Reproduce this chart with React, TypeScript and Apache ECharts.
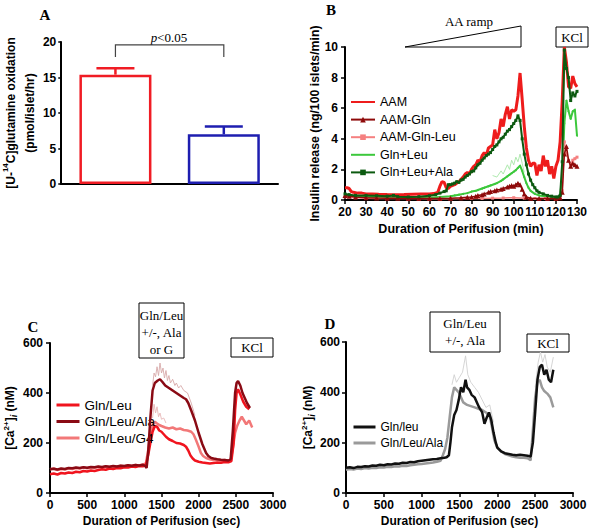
import React, { useEffect, useRef } from 'react';
import * as echarts from 'echarts';

const SANS = '"Liberation Sans", Arial, sans-serif';
const SERIF = '"Liberation Serif", "Times New Roman", serif';

// ---------- Panel A ----------
const groupsA = ['Group 1', 'Group 2'];
const meansA = [15.4, 7.0];
const upperA = [16.3, 8.1];
const colorsA = ['#f01c24', '#1e1eb0'];
const bracketA = [[0, 1, 19.6, 17.9]];

// ---------- Panel B (time min, insulin) ----------
const namesB = ['AAM', 'AAM-Gln', 'AAM-Gln-Leu', 'Gln+Leu', 'Gln+Leu+Ala'];
const bAAM = [[20,0.8],[21,0.8],[22,0.75],[23,0.55],[24,0.5],[26,0.45],[28,0.45],[30,0.4],[33,0.4],[36,0.38],[40,0.36],[44,0.35],[48,0.36],[52,0.38],[56,0.4],[60,0.4],[62,0.42],[64,0.5],[65,0.9],[66,1.2],[67,1.15],[68,0.8],[69,0.75],[70,0.9],[72,1.0],[74,1.2],[76,1.5],[77,1.7],[78,1.8],[79,1.7],[80,2.0],[81,2.2],[82,2.3],[83,2.6],[84,2.5],[85,2.9],[86,3.1],[87,2.9],[88,3.4],[89,3.5],[90,3.6],[91,4.6],[92,4.0],[93,4.4],[94,5.3],[95,4.8],[96,5.6],[97,6.1],[98,5.3],[99,5.9],[100,5.8],[101,5.9],[102,6.8],[103,8.3],[104,6.6],[105,4.8],[106,3.4],[107,2.6],[108,2.2],[109,2.4],[110,2.4],[111,1.6],[112,2.3],[113,1.9],[114,2.9],[115,2.2],[116,2.6],[117,1.7],[118,2.2],[119,1.4],[120,2.2],[121,2.6],[122,3.8],[123,6.5],[124,10.0],[125,9.0],[126,7.4],[127,7.3],[128,8.1],[129,7.6],[130,7.4]];
const bAAMGln = [[20,0.3],[22,0.25],[25,0.2],[30,0.15],[35,0.13],[40,0.12],[45,0.11],[50,0.1],[55,0.1],[60,0.1],[65,0.1],[70,0.12],[75,0.15],[78,0.18],[80,0.2],[82,0.25],[83,0.3],[85,0.35],[86,0.4],[88,0.5],[89,0.55],[91,0.6],[92,0.65],[94,0.7],[95,0.75],[97,0.85],[98,0.9],[99,0.95],[100,0.9],[101,1.0],[102,1.1],[103,1.0],[104,0.7],[105,0.4],[106,0.2],[108,0.12],[112,0.1],[116,0.1],[120,0.1],[122,0.15],[123,0.5],[124,3.0],[125,3.5],[126,2.6],[127,2.2],[128,2.4],[129,2.3],[130,2.2]];
const bAAMGlnLeu = [[20,0.2],[25,0.15],[30,0.12],[35,0.1],[40,0.1],[45,0.1],[50,0.1],[55,0.09],[60,0.08],[65,0.08],[70,0.08],[75,0.09],[80,0.1],[85,0.1],[90,0.12],[95,0.13],[100,0.15],[105,0.12],[110,0.1],[115,0.1],[120,0.1],[122,0.15],[123,0.6],[124,3.8],[125,3.0],[126,2.6],[127,2.3],[128,2.6],[129,2.7],[130,2.8]];
const bGlnLeu = [[20,0.3],[22,0.25],[25,0.2],[30,0.2],[35,0.19],[40,0.18],[45,0.17],[50,0.15],[55,0.15],[60,0.15],[65,0.2],[70,0.25],[72,0.3],[74,0.35],[76,0.4],[78,0.45],[80,0.55],[82,0.6],[83,0.65],[85,0.75],[86,0.8],[88,0.9],[89,0.95],[91,1.05],[92,1.1],[94,1.25],[95,1.35],[97,1.55],[98,1.65],[99,1.75],[100,1.85],[101,1.95],[102,2.1],[103,2.25],[104,1.9],[105,1.5],[106,1.1],[107,0.8],[108,0.6],[110,0.4],[112,0.3],[115,0.25],[118,0.2],[121,0.2],[122,0.3],[123,1.5],[124,5.0],[125,6.5],[126,5.8],[127,5.3],[128,5.8],[129,5.9],[130,4.2]];
const bGlnLeuUpper = [[90,1.6],[92,1.5],[94,1.9],[95,1.7],[97,2.3],[98,2.0],[99,2.6],[100,2.3],[101,2.8],[102,2.5],[103,3.0],[104,2.4],[105,1.8]];
const bGlnLeuAla = [[20,0.4],[22,0.35],[25,0.3],[30,0.3],[35,0.28],[40,0.25],[43,0.3],[45,0.22],[50,0.2],[55,0.22],[60,0.28],[63,0.35],[65,0.45],[67,0.55],[68,0.6],[69,1.0],[70,1.0],[71,1.05],[72,1.1],[73,1.2],[74,1.15],[75,1.3],[76,1.35],[77,1.5],[78,1.6],[79,1.7],[80,1.85],[81,1.9],[82,2.1],[83,2.3],[84,2.4],[85,2.6],[86,2.75],[87,2.9],[88,3.0],[89,3.1],[90,3.3],[91,3.5],[92,3.6],[93,3.8],[94,4.0],[95,4.1],[96,4.3],[97,4.5],[98,4.6],[99,4.8],[100,5.0],[101,5.2],[102,5.5],[103,5.2],[104,4.0],[105,3.0],[106,2.3],[107,1.7],[108,1.3],[109,1.0],[110,0.8],[111,0.6],[112,0.5],[114,0.4],[116,0.3],[118,0.25],[120,0.2],[121,0.2],[122,0.3],[123,2.5],[124,9.8],[125,8.6],[126,8.0],[127,6.5],[128,7.0],[129,6.8],[130,7.1]];
const colorsB = ['#ee1c1c', '#8e0a0a', '#f58080', '#3cc83c', '#0c5a10'];

// ---------- Panel C (time s, [Ca2+]i nM) ----------
const namesC = ['Gln/Leu', 'Gln/Leu/Ala', 'Gln/Leu/G4'];
const cGlnLeu = [[0,75],[50,78],[100,74],[150,80],[200,78],[250,82],[300,80],[350,85],[400,83],[450,88],[500,86],[550,90],[600,88],[650,92],[700,95],[750,93],[800,98],[850,96],[900,100],[950,99],[1000,103],[1050,102],[1100,106],[1150,104],[1200,108],[1250,107],[1290,112],[1320,150],[1350,200],[1380,245],[1410,268],[1440,265],[1470,250],[1500,245],[1530,235],[1560,225],[1600,215],[1650,208],[1700,200],[1750,198],[1800,192],[1830,185],[1860,170],[1890,150],[1920,138],[1950,130],[2000,125],[2050,122],[2100,120],[2150,118],[2200,120],[2250,122],[2300,121],[2350,124],[2400,123],[2440,128],[2470,200],[2490,330],[2510,400],[2530,415],[2560,395],[2600,365],[2640,345],[2680,335]];
const cGlnLeuAla = [[0,95],[50,97],[100,94],[150,98],[200,96],[250,100],[300,99],[350,102],[400,100],[450,103],[500,101],[550,104],[600,103],[650,106],[700,104],[750,107],[800,105],[850,108],[900,106],[950,109],[1000,108],[1050,111],[1100,109],[1150,112],[1200,110],[1250,113],[1280,108],[1300,100],[1320,160],[1350,300],[1380,410],[1410,440],[1450,450],[1480,455],[1510,445],[1550,430],[1600,420],[1650,410],[1700,400],[1750,390],[1800,380],[1830,375],[1860,360],[1900,330],[1950,290],[2000,240],[2050,195],[2100,160],[2130,148],[2170,140],[2200,138],[2250,135],[2300,133],[2350,132],[2400,130],[2430,135],[2460,250],[2490,400],[2510,440],[2530,448],[2560,430],[2590,400],[2620,380],[2650,360],[2690,340]];
const cAlaUpper = [[1380,430],[1400,480],[1420,465],[1440,505],[1460,470],[1480,520],[1500,480],[1520,500],[1540,460],[1560,490],[1580,450],[1600,470],[1620,440],[1650,455],[1680,430],[1700,440],[1730,420],[1760,430],[1800,410],[1850,400],[1900,360],[1950,310]];
const cGlnLeuG4 = [[0,95],[50,98],[100,92],[150,96],[200,94],[250,99],[300,96],[350,100],[400,98],[450,102],[500,99],[550,103],[600,101],[650,104],[700,102],[750,106],[800,104],[850,107],[900,105],[950,109],[1000,107],[1050,110],[1100,108],[1150,112],[1200,110],[1250,114],[1290,118],[1320,170],[1350,230],[1380,270],[1410,285],[1440,278],[1470,272],[1500,268],[1550,262],[1600,258],[1650,262],[1700,255],[1750,258],[1800,252],[1850,250],[1900,245],[1930,235],[1960,215],[2000,185],[2030,160],[2060,148],[2100,140],[2150,135],[2200,132],[2250,134],[2300,130],[2350,132],[2400,128],[2430,130],[2460,180],[2490,240],[2520,270],[2550,290],[2580,305],[2610,290],[2640,275],[2680,290],[2720,262]];
const cG4Upper = [[1380,300],[1400,355],[1420,320],[1440,345],[1460,305],[1480,320],[1500,295],[1530,300],[1560,280]];
const colorsC = ['#f0141e', '#8a0a14', '#f27878'];

// ---------- Panel D ----------
const namesD = ['Gln/leu', 'Gln/Leu/Ala '];
const dGlnLeu = [[0,100],[50,102],[100,99],[150,104],[200,103],[250,106],[300,105],[350,109],[400,108],[450,112],[500,110],[550,114],[600,113],[650,117],[700,116],[750,120],[800,119],[850,123],[900,122],[950,126],[1000,128],[1050,130],[1100,132],[1150,134],[1200,135],[1250,138],[1300,140],[1330,142],[1360,150],[1380,200],[1400,260],[1430,310],[1460,330],[1490,370],[1520,420],[1550,400],[1580,450],[1600,420],[1630,410],[1660,390],[1700,380],[1730,360],[1760,340],[1800,320],[1830,275],[1860,300],[1890,320],[1920,290],[1950,240],[1980,200],[2000,180],[2050,165],[2100,158],[2150,155],[2200,152],[2250,150],[2300,152],[2350,150],[2400,148],[2440,145],[2470,200],[2500,320],[2530,450],[2560,500],[2590,510],[2620,470],[2650,490],[2680,450],[2710,440],[2740,490]];
const dUpperPeak = [[1400,430],[1430,470],[1460,440],[1500,460],[1540,480],[1580,545],[1610,470],[1650,440],[1700,420],[1750,400],[1800,370],[1850,340],[1900,350],[1950,280]];
const dUpperKCl = [[2500,420],[2540,520],[2570,560],[2600,520],[2630,550],[2660,500],[2700,480],[2740,540]];
const dGlnLeuAla = [[0,92],[50,95],[100,93],[150,97],[200,95],[250,99],[300,97],[350,100],[400,99],[450,102],[500,101],[550,104],[600,103],[650,106],[700,105],[750,108],[800,107],[850,110],[900,112],[950,114],[1000,115],[1050,117],[1100,119],[1150,121],[1200,124],[1250,128],[1280,150],[1310,175],[1340,220],[1370,300],[1400,380],[1430,420],[1460,410],[1490,400],[1520,380],[1550,360],[1600,350],[1650,345],[1700,340],[1750,335],[1800,330],[1850,320],[1900,305],[1930,260],[1960,210],[2000,180],[2050,165],[2100,155],[2150,150],[2200,145],[2250,142],[2300,140],[2350,140],[2400,138],[2440,130],[2470,250],[2500,380],[2530,440],[2560,450],[2590,420],[2620,405],[2660,395],[2700,380],[2740,340]];
const colorsD = ['#111111', '#9a9a9a'];

const axisLine = { show: true, lineStyle: { color: '#000', width: 2 } };
const axisTick = { show: true, length: 4, lineStyle: { color: '#000', width: 1.5 } };
const tickLabel = (margin: number) => ({ color: '#000', fontFamily: SANS, fontWeight: 'bold', fontSize: 12, margin, formatter: (v: number) => String(v) });

const caName = '{b|[Ca}{sup|2+}{b|]}{sub|i}{b| (nM)}';
const caRich = {
  b: { fontFamily: SANS, fontWeight: 'bold', fontSize: 12, color: '#000', lineHeight: 16 },
  sup: { fontFamily: SANS, fontWeight: 'bold', fontSize: 8, color: '#000', verticalAlign: 'top', lineHeight: 10 },
  sub: { fontFamily: SANS, fontWeight: 'bold', fontStyle: 'italic', fontSize: 9, color: '#000', verticalAlign: 'bottom', lineHeight: 10 },
};

function boxText(lines: string[], cx: number, y0: number, step: number) {
  return lines.map((t, i) => ({
    type: 'text', x: cx, y: y0 + i * step,
    style: { text: t, font: `13px ${SERIF}`, fill: '#000', textAlign: 'center', textVerticalAlign: 'middle' },
  }));
}

export default function App() {
  const ref = useRef<HTMLDivElement>(null);
  useEffect(() => {
    if (!ref.current) return;
    const chart = echarts.init(ref.current, undefined, { renderer: 'svg' });
    const lineS = (name: string, data: number[][], color: string, xi: number, width: number, symbol: string, size: number, z: number) => ({
      name, type: 'line', xAxisIndex: xi, yAxisIndex: xi, data, z,
      symbol: symbol === 'none' ? 'circle' : symbol, symbolSize: size, showSymbol: symbol !== 'none',
      itemStyle: { color }, lineStyle: { color, width }, emphasis: { disabled: true },
    });
    const errS = (data: number[][], color: string, xi: number) => ({
      type: 'line', xAxisIndex: xi, yAxisIndex: xi, data, z: 1, silent: true, showSymbol: false, symbol: 'none',
      lineStyle: { color, width: 0.9 }, emphasis: { disabled: true }, tooltip: { show: false },
    });
    const hidden = { opacity: 0 };
    const option: any = {
      animation: false,
      backgroundColor: '#fff',
      grid: [
        { left: 57, top: 42, width: 221, height: 142 },
        { left: 345, top: 47, width: 232, height: 153 },
        { left: 50, top: 343, width: 223, height: 150 },
        { left: 346, top: 342, width: 227, height: 151 },
      ],
      xAxis: [
        { gridIndex: 0, type: 'category', data: groupsA, axisLine, axisTick: { show: false }, axisLabel: { show: false } },
        { gridIndex: 1, type: 'value', min: 20, max: 130, interval: 10, axisLine, axisTick, splitLine: { show: false }, axisLabel: tickLabel(6),
          name: 'Duration of Perifusion (min)', nameLocation: 'middle', nameGap: 22, nameTextStyle: { fontFamily: SANS, fontWeight: 'bold', fontSize: 12.5, color: '#000' } },
        { gridIndex: 2, type: 'value', min: 0, max: 3000, interval: 500, axisLine, axisTick, splitLine: { show: false }, axisLabel: tickLabel(6),
          name: 'Duration of Perifusion (sec)', nameLocation: 'middle', nameGap: 22, nameTextStyle: { fontFamily: SANS, fontWeight: 'bold', fontSize: 12, color: '#000' } },
        { gridIndex: 3, type: 'value', min: 0, max: 3000, interval: 500, axisLine, axisTick, splitLine: { show: false }, axisLabel: tickLabel(6),
          name: 'Duration of Perifusion (sec)', nameLocation: 'middle', nameGap: 22, nameTextStyle: { fontFamily: SANS, fontWeight: 'bold', fontSize: 12, color: '#000' } },
      ],
      yAxis: [
        { gridIndex: 0, type: 'value', min: 0, max: 20, interval: 5, axisLine, axisTick: { ...axisTick, length: 3 }, splitLine: { show: false }, axisLabel: tickLabel(5),
          name: '{b|[U-}{sup|14}{b|C]glutamine oxidation}\n{b|(pmol/islet/hr)}', nameLocation: 'middle', nameGap: 20, nameRotate: 90,
          nameTextStyle: { fontFamily: SANS, fontWeight: 'bold', fontSize: 12, color: '#000', lineHeight: 19,
            rich: { b: { fontFamily: SANS, fontWeight: 'bold', fontSize: 12, color: '#000', lineHeight: 19 },
                    sup: { fontFamily: SANS, fontWeight: 'bold', fontSize: 8, color: '#000', verticalAlign: 'top', lineHeight: 12 } } } },
        { gridIndex: 1, type: 'value', min: 0, max: 10, interval: 2, axisLine, axisTick, splitLine: { show: false }, axisLabel: tickLabel(7),
          name: 'Insulin release (ng/100 islets/min)', nameLocation: 'middle', nameGap: 22, nameRotate: 90,
          nameTextStyle: { fontFamily: SANS, fontWeight: 'bold', fontSize: 12.3, color: '#000' } },
        { gridIndex: 2, type: 'value', min: 0, max: 600, interval: 200, axisLine, axisTick, splitLine: { show: false }, axisLabel: tickLabel(7),
          name: caName, nameLocation: 'middle', nameGap: 32, nameRotate: 90, nameTextStyle: { rich: caRich } },
        { gridIndex: 3, type: 'value', min: 0, max: 600, interval: 200, axisLine, axisTick, splitLine: { show: false }, axisLabel: tickLabel(6),
          name: caName, nameLocation: 'middle', nameGap: 28, nameRotate: 90, nameTextStyle: { rich: caRich } },
      ],
      legend: [
        { data: [
            { name: namesB[0], itemStyle: hidden },
            { name: namesB[1] },
            { name: namesB[2] },
            { name: namesB[3], itemStyle: hidden },
            { name: namesB[4] },
          ],
          orient: 'vertical', left: 350, top: 95, padding: 0, itemWidth: 24, itemHeight: 7, itemGap: 3.6, selectedMode: false,
          textStyle: { fontFamily: SANS, fontSize: 12.5, color: '#000', lineHeight: 14 } },
        { data: namesC, orient: 'vertical', left: 55, top: 398, padding: 0, itemWidth: 23, itemHeight: 7, itemGap: 2.5, selectedMode: false,
          itemStyle: hidden, lineStyle: { width: 3 },
          textStyle: { fontFamily: SANS, fontSize: 13.5, color: '#000', lineHeight: 14 } },
        { data: namesD, orient: 'vertical', left: 352, top: 420, padding: 0, itemWidth: 22, itemHeight: 7, itemGap: 2, selectedMode: false,
          itemStyle: hidden, lineStyle: { width: 3 },
          textStyle: { fontFamily: SANS, fontSize: 12, color: '#000', lineHeight: 14 } },
      ],
      series: [
        { type: 'bar', xAxisIndex: 0, yAxisIndex: 0, barWidth: 72, silent: true,
          data: meansA.map((v, i) => ({ value: v, itemStyle: { color: 'rgba(255,255,255,0)', borderColor: colorsA[i], borderWidth: 2.5 } })) },
        { type: 'custom', xAxisIndex: 0, yAxisIndex: 0, silent: true, encode: { x: 0, y: [1, 2] },
          data: meansA.map((m, i) => [i, m, upperA[i]]),
          renderItem: (params: any, api: any) => {
            const p0 = api.coord([api.value(0), api.value(1)]);
            const p1 = api.coord([api.value(0), api.value(2)]);
            const c = colorsA[params.dataIndex];
            return { type: 'group', children: [
              { type: 'line', shape: { x1: p0[0], y1: p0[1], x2: p1[0], y2: p1[1] }, style: { stroke: c, lineWidth: 2.5 } },
              { type: 'line', shape: { x1: p1[0] - 19, y1: p1[1], x2: p1[0] + 19, y2: p1[1] }, style: { stroke: c, lineWidth: 2.5 } },
            ] };
          } },
        { type: 'custom', xAxisIndex: 0, yAxisIndex: 0, silent: true, encode: { x: [0, 1], y: [2, 3] },
          data: bracketA,
          renderItem: (params: any, api: any) => {
            const a = api.coord([api.value(0), api.value(2)]);
            const b = api.coord([api.value(1), api.value(2)]);
            const lo = api.coord([api.value(0), api.value(3)]);
            return { type: 'polyline', shape: { points: [[a[0], lo[1]], [a[0], a[1]], [b[0], b[1]], [b[0], lo[1]]] },
              style: { stroke: '#444', lineWidth: 1.2, fill: 'none' } };
          } },
        errS(bGlnLeuUpper, '#a6e6a6', 1),
        lineS(namesB[3], bGlnLeu, colorsB[3], 1, 2, 'circle', 2, 2),
        lineS(namesB[2], bAAMGlnLeu, colorsB[2], 1, 1.5, 'rect', 3, 3),
        lineS(namesB[1], bAAMGln, colorsB[1], 1, 1.5, 'triangle', 5, 4),
        lineS(namesB[0], bAAM, colorsB[0], 1, 3, 'none', 0, 5),
        lineS(namesB[4], bGlnLeuAla, colorsB[4], 1, 2, 'rect', 3, 6),
        errS(cAlaUpper, '#d8aaaa', 2),
        errS(cG4Upper, '#e8b8b8', 2),
        lineS(namesC[2], cGlnLeuG4, colorsC[2], 2, 2.5, 'none', 0, 2),
        lineS(namesC[0], cGlnLeu, colorsC[0], 2, 2.5, 'none', 0, 3),
        lineS(namesC[1], cGlnLeuAla, colorsC[1], 2, 2.5, 'none', 0, 4),
        errS(dUpperPeak, '#d0d0d0', 3),
        errS(dUpperKCl, '#d0d0d0', 3),
        lineS(namesD[1], dGlnLeuAla, colorsD[1], 3, 2.5, 'none', 0, 2),
        lineS(namesD[0], dGlnLeu, colorsD[0], 3, 2.5, 'none', 0, 3),
      ],
      graphic: [
        { type: 'text', x: 45, y: 15, style: { text: 'A', font: `bold 15px ${SERIF}`, fill: '#000', textAlign: 'center', textVerticalAlign: 'middle' } },
        { type: 'text', x: 169, y: 37, style: { text: '{i|p}{n|<0.05}', fill: '#000', textAlign: 'center', textVerticalAlign: 'middle',
            rich: { i: { fontFamily: SERIF, fontStyle: 'italic', fontSize: 13 }, n: { fontFamily: SERIF, fontSize: 13 } } } },
        { type: 'text', x: 331, y: 10, style: { text: 'B', font: `bold 15px ${SERIF}`, fill: '#000', textAlign: 'center', textVerticalAlign: 'middle' } },
        { type: 'text', x: 469, y: 21, style: { text: 'AA ramp', font: `13px ${SERIF}`, fill: '#000', textAlign: 'center', textVerticalAlign: 'middle' } },
        { type: 'polygon', shape: { points: [[405, 47], [521, 47], [521, 26]] }, style: { fill: '#fff', stroke: '#000', lineWidth: 1 } },
        { type: 'rect', shape: { x: 556, y: 27, width: 32, height: 20 }, style: { fill: '#fff', stroke: '#000', lineWidth: 1 } },
        ...boxText(['KCl'], 572, 37, 0),
        { type: 'text', x: 33, y: 327, style: { text: 'C', font: `bold 15px ${SERIF}`, fill: '#000', textAlign: 'center', textVerticalAlign: 'middle' } },
        { type: 'rect', shape: { x: 139, y: 303, width: 45, height: 55 }, style: { fill: '#fff', stroke: '#000', lineWidth: 1 } },
        ...boxText(['Gln/Leu', '+/-, Ala', 'or G'], 161.5, 315, 17),
        { type: 'rect', shape: { x: 231, y: 338, width: 42, height: 19 }, style: { fill: '#fff', stroke: '#000', lineWidth: 1 } },
        ...boxText(['KCl'], 252, 347.5, 0),
        { type: 'text', x: 330, y: 324, style: { text: 'D', font: `bold 15px ${SERIF}`, fill: '#000', textAlign: 'center', textVerticalAlign: 'middle' } },
        { type: 'rect', shape: { x: 430, y: 312, width: 70, height: 40 }, style: { fill: '#fff', stroke: '#000', lineWidth: 1 } },
        ...boxText(['Gln/Leu', '+/-, Ala'], 465, 323.5, 17),
        { type: 'rect', shape: { x: 527, y: 334, width: 42, height: 18 }, style: { fill: '#fff', stroke: '#000', lineWidth: 1 } },
        ...boxText(['KCl'], 548, 343, 0),
      ],
    };
    chart.setOption(option);
    return () => chart.dispose();
  }, []);
  return <div ref={ref} style={{ position: 'absolute', left: 0, top: 0, width: 602, height: 532 }} />;
}
